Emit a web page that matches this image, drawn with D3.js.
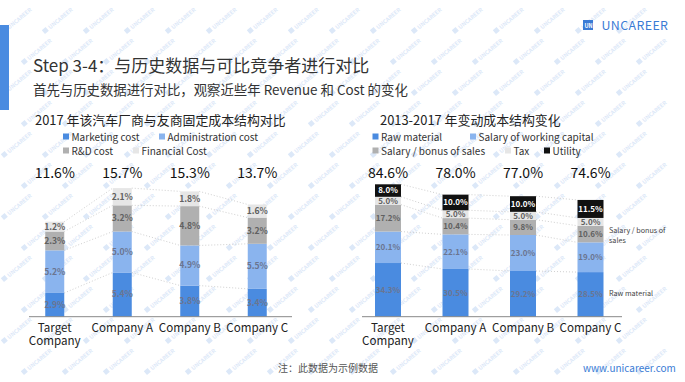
<!DOCTYPE html>
<html><head><meta charset="utf-8">
<script src="https://cdn.jsdelivr.net/npm/d3@7"></script>
<style>body{margin:0;background:#fff}svg{display:block}text{font-family:"Noto Sans CJK SC","Noto Sans",sans-serif}</style>
</head><body><svg id="c" width="685" height="382"></svg>
<script>
// ---- data ----
const companies = ["Target Company", "Company A", "Company B", "Company C"];
const fixedSeries = ["Marketing cost", "Administration cost", "R&D cost", "Financial Cost"];
const marketing = [2.9, 5.4, 3.8, 3.4];
const administration = [5.2, 5.0, 4.9, 5.5];
const rnd = [2.3, 3.2, 4.8, 3.2];
const financial = [1.2, 2.1, 1.8, 1.6];
const fixedTotals = ["11.6%", "15.7%", "15.3%", "13.7%"];

const varSeries = ["Raw material", "Salary of working capital", "Salary / bonus of sales", "Tax", "Utility"];
const rawMaterial = [34.3, 30.5, 29.2, 28.5];
const salaryWorking = [20.1, 22.1, 23.0, 19.0];
const salaryBonus = [17.2, 10.4, 9.8, 10.6];
const tax = [5.0, 5.0, 5.0, 5.0];
const utility = [8.0, 10.0, 10.0, 11.5];
const varTotals = ["84.6%", "78.0%", "77.0%", "74.6%"];

const svg = d3.select("#c");

// watermark (only fully inside the canvas)
const wm = svg.append("g").attr("fill", "#dce8f8").attr("font-size", 5.5).attr("font-weight", 700);
for (let r = 0; r < 14; r++) {
  for (let c = 0; c < 18; c++) {
    const x = c * 41 + (r % 2) * 20 + 4, y = r * 31 + 34;
    if (x + 40 > 683 || y > 378) continue;
    const g = wm.append("g").attr("transform", `translate(${x},${y}) rotate(-40)`);
    g.append("rect").attr("x", 0).attr("y", -5).attr("width", 5).attr("height", 5);
    g.append("text").attr("x", 7).attr("y", 0).text("UNCAREER");
  }
}

// header
svg.append("rect").attr("x", 0).attr("y", 25).attr("width", 9).attr("height", 85).attr("fill", "#4a8be0");
svg.append("text").attr("x", 33).attr("y", 71.5).attr("font-size", 17).attr("fill", "#333")
  .text("Step 3-4：与历史数据与可比竞争者进行对比");
svg.append("text").attr("x", 33).attr("y", 94.5).attr("font-size", 13.4).attr("fill", "#333")
  .text("首先与历史数据进行对比，观察近些年 Revenue 和 Cost 的变化");
svg.append("rect").attr("x", 583).attr("y", 20).attr("width", 10).attr("height", 10).attr("fill", "#3a7bd5");
svg.append("text").attr("x", 584.5).attr("y", 27.5).attr("font-size", 5.5).attr("fill", "#fff").attr("font-weight", 700).text("UN");
svg.append("text").attr("x", 601.5).attr("y", 29.8).attr("font-size", 12.4).attr("fill", "#3a7bd5").attr("letter-spacing", 0.4).text("UNCAREER");
svg.append("text").attr("x", 278).attr("y", 372).attr("font-size", 10).attr("fill", "#555").text("注：此数据为示例数据");
svg.append("text").attr("x", 583).attr("y", 372).attr("font-size", 10).attr("fill", "#3a7bd5").text("www.unicareer.com");

function chart(opts) {
  const {seriesNames, values, colors, totals, xRange, barW, yMax, yRange, axisX, labelColors, labelSize, legendItems, title, titleX} = opts;
  const x = d3.scaleBand().domain(companies).range(xRange).padding(0);
  const y = d3.scaleLinear().domain([0, yMax]).range(yRange);
  const stack = d3.stack().keys(d3.range(seriesNames.length))
    .value((d, k) => values[k][d])(d3.range(companies.length));
  const g = svg.append("g");
  g.append("text").attr("x", titleX).attr("y", 124.5).attr("font-size", 12.9).attr("fill", "#222").text(title);
  legendItems.forEach(li => {
    g.append("rect").attr("x", li.x).attr("y", li.y - 3.5).attr("width", 6).attr("height", 6).attr("fill", colors[li.k]);
    g.append("text").attr("x", li.x + 8.5).attr("y", li.y + 3.6).attr("font-size", 10).attr("fill", "#333").text(seriesNames[li.k]);
  });
  stack.forEach(layer => {
    for (let i = 0; i < companies.length - 1; i++) {
      g.append("line")
        .attr("x1", x(companies[i]) + x.bandwidth() / 2 + barW / 2).attr("y1", y(layer[i][1]))
        .attr("x2", x(companies[i + 1]) + x.bandwidth() / 2 - barW / 2).attr("y2", y(layer[i + 1][1]))
        .attr("stroke", "#d0d0d0").attr("stroke-width", 1).attr("stroke-dasharray", "1,2");
    }
  });
  stack.forEach((layer, k) => {
    layer.forEach((d, i) => {
      const cx = x(companies[i]) + x.bandwidth() / 2;
      g.append("rect").attr("x", cx - barW / 2).attr("y", y(d[1])).attr("width", barW)
        .attr("height", y(d[0]) - y(d[1])).attr("fill", colors[k]);
      g.append("text").attr("x", cx).attr("y", (y(d[0]) + y(d[1])) / 2 + 2.9)
        .attr("text-anchor", "middle").attr("font-size", labelSize).attr("font-family", "Lato")
        .attr("font-weight", 700)
        .attr("fill", labelColors[k]).text(values[k][i].toFixed(1) + "%");
    });
  });
  companies.forEach((c, i) => {
    g.append("text").attr("x", x(c) + x.bandwidth() / 2).attr("y", 178).attr("text-anchor", "middle")
      .attr("font-size", 14).attr("fill", "#111").text(totals[i]);
  });
  g.append("line").attr("x1", axisX[0]).attr("x2", axisX[1]).attr("y1", yRange[0]).attr("y2", yRange[0])
    .attr("stroke", "#888").attr("stroke-width", 1);
  companies.forEach(c => {
    const parts = c === "Target Company" ? ["Target", "Company"] : [c];
    const cx = x(c) + x.bandwidth() / 2;
    const t = g.append("text").attr("x", cx).attr("y", 331.5).attr("text-anchor", "middle")
      .attr("font-size", 11.6).attr("fill", "#222");
    parts.forEach((p, j) => {
      t.append("tspan").attr("x", cx).attr("dy", j === 0 ? 0 : 13).text(p);
    });
  });
  return {x, y, g};
}

chart({
  seriesNames: fixedSeries,
  values: [marketing, administration, rnd, financial],
  colors: ["#4a8be0", "#8ab4ee", "#b0b0b0", "#e6e6e6"],
  labelColors: ["#6a7590", "#6a7590", "#606060", "#606060"],
  labelSize: 8.6,
  totals: fixedTotals,
  xRange: [21, 291], barW: 19, yMax: 16, yRange: [316.7, 316.7 - 16 * 8.19],
  axisX: [29, 292],
  title: "2017 年该汽车厂商与友商固定成本结构对比", titleX: 35,
  legendItems: [{k: 0, x: 63, y: 137}, {k: 1, x: 159, y: 137}, {k: 2, x: 63, y: 151}, {k: 3, x: 133, y: 151}]
});

const right = chart({
  seriesNames: varSeries,
  values: [rawMaterial, salaryWorking, salaryBonus, tax, utility],
  colors: ["#4a8be0", "#8ab4ee", "#b0b0b0", "#e6e6e6", "#111"],
  labelColors: ["#6a7590", "#6a7590", "#606060", "#606060", "#fff"],
  labelSize: 8,
  totals: varTotals,
  xRange: [354.25, 624.25], barW: 26, yMax: 90, yRange: [316.7, 316.7 - 90 * 1.565],
  axisX: [362, 622],
  title: "2013-2017 年变动成本结构变化", titleX: 380,
  legendItems: [{k: 0, x: 372.5, y: 137}, {k: 1, x: 470, y: 137}, {k: 2, x: 372.5, y: 151}, {k: 3, x: 505, y: 151}, {k: 4, x: 544, y: 151}]
});
const note = right.g.append("text").attr("x", 609).attr("y", 233).attr("font-size", 7.2).attr("fill", "#444");
note.append("tspan").attr("x", 609).text("Salary / bonus of");
note.append("tspan").attr("x", 609).attr("dy", 10).text("sales");
right.g.append("text").attr("x", 609).attr("y", 296).attr("font-size", 7.2).attr("fill", "#444").text("Raw material");
</script></body></html>
